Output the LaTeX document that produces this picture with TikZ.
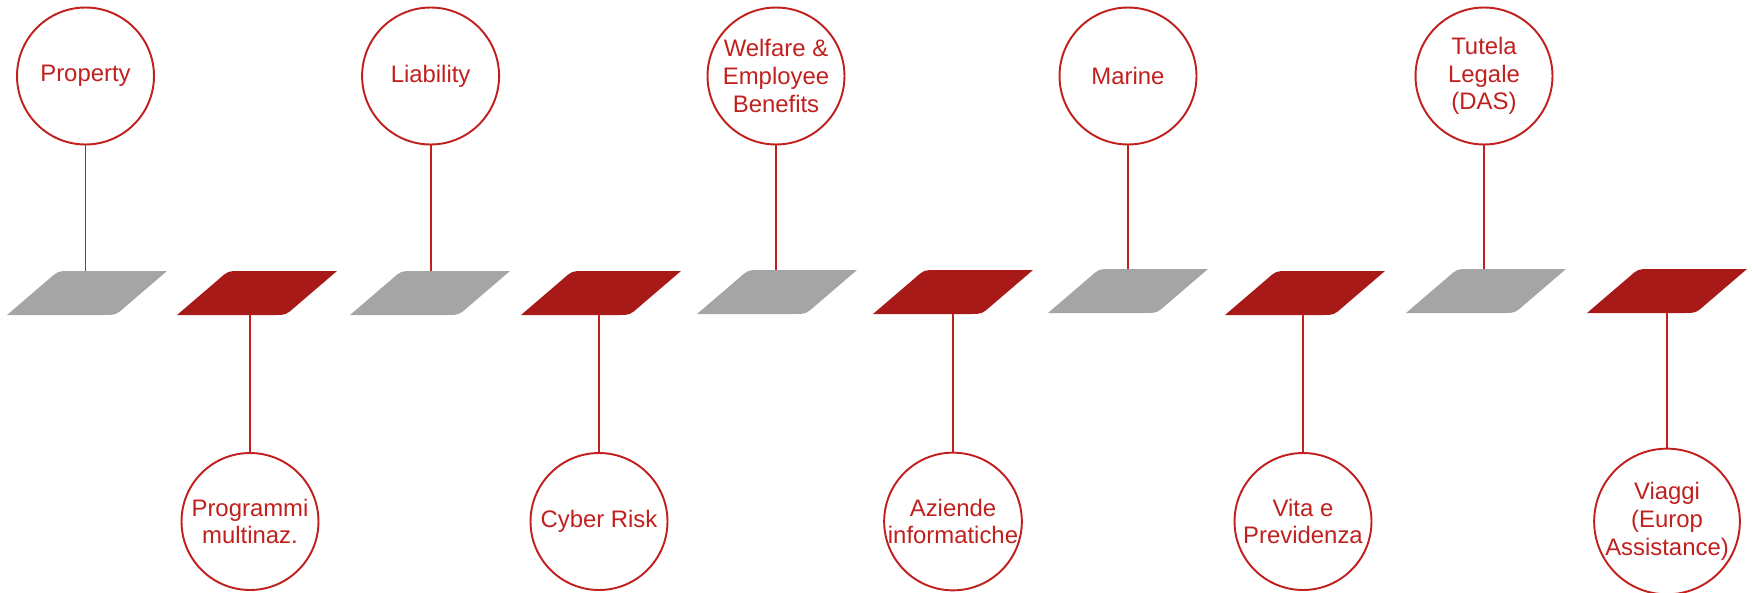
\documentclass[tikz,border=0pt]{standalone}
\usepackage{fontspec}
\setmainfont{Liberation Sans}
\usepackage{tikz}

\definecolor{bandred}{HTML}{A81A18}
\definecolor{bandgray}{HTML}{A5A5A5}
\definecolor{linered}{HTML}{C0201E}

\tikzset{
  topic/.style={circle, draw=linered, line width=1.1pt, fill=white,
    minimum size=2.74cm, inner sep=0pt, text=linered, align=center,
    font=\fontsize{13.6}{15.8}\selectfont},
  link/.style={draw=linered, line width=1.1pt}
}

\begin{document}
\begin{tikzpicture}[x=0.02cm, y=-0.02cm]
        \useasboundingbox (0,0) rectangle (1752,592);
        % bands
        \foreach \n/\x/\y/\c in {1/7/315/bandgray, 2/177/315/bandred,
          3/350/315/bandgray, 4/521/315/bandred, 5/697/314/bandgray,
          6/873/314/bandred, 7/1048/313/bandgray, 8/1225/315/bandred,
          9/1406/313/bandgray, 10/1587/313/bandred}
        {
        \fill[\c] (\x,\y) -- (\x+42,\y-36) .. controls (\x+51,\y-44) .. (\x+63,\y-44)
          -- (\x+160,\y-44) -- (\x+118,\y-8) .. controls (\x+109,\y) .. (\x+97,\y) -- cycle;
        \coordinate (top\n) at (\x+80,\y-44);
        \coordinate (bot\n) at (\x+80,\y);
        }

        % upper row
        \node[topic] (prop) at (85.5,76) {Property};
        \node[topic] (liab) at (430.6,76) {Liability};
        \node[topic] (welf) at (776,76) {Welfare \&\\Employee\\Benefits};
        \node[topic] (mar) at (1128,76) {Marine};
        \node[topic] (tut) at (1484,76) {Tutela\\Legale\\(DAS)};

        % lower row
        \node[topic] (prog) at (250,521.5) {Programmi\\multinaz.};
        \node[topic] (cyb) at (599,521.5) {Cyber Risk};
        \node[topic] (az) at (953,521.5) {Aziende\\informatiche};
        \node[topic] (vita) at (1303,521.5) {Vita e\\Previdenza};
        \node[topic] (viag) at (1667,521.5) {Viaggi\\(Europ\\Assistance)};

        \draw[link] (prop) -- (prop |- top1);
        \draw[link] (liab) -- (liab |- top3);
        \draw[link] (welf) -- (welf |- top5);
        \draw[link] (mar) -- (mar |- top7);
        \draw[link] (tut) -- (tut |- top9);
        \draw[link] (prog) -- (prog |- bot2);
        \draw[link] (cyb) -- (cyb |- bot4);
        \draw[link] (az) -- (az |- bot6);
        \draw[link] (vita) -- (vita |- bot8);
        \draw[link] (viag) -- (viag |- bot10);
\end{tikzpicture}
\end{document}
